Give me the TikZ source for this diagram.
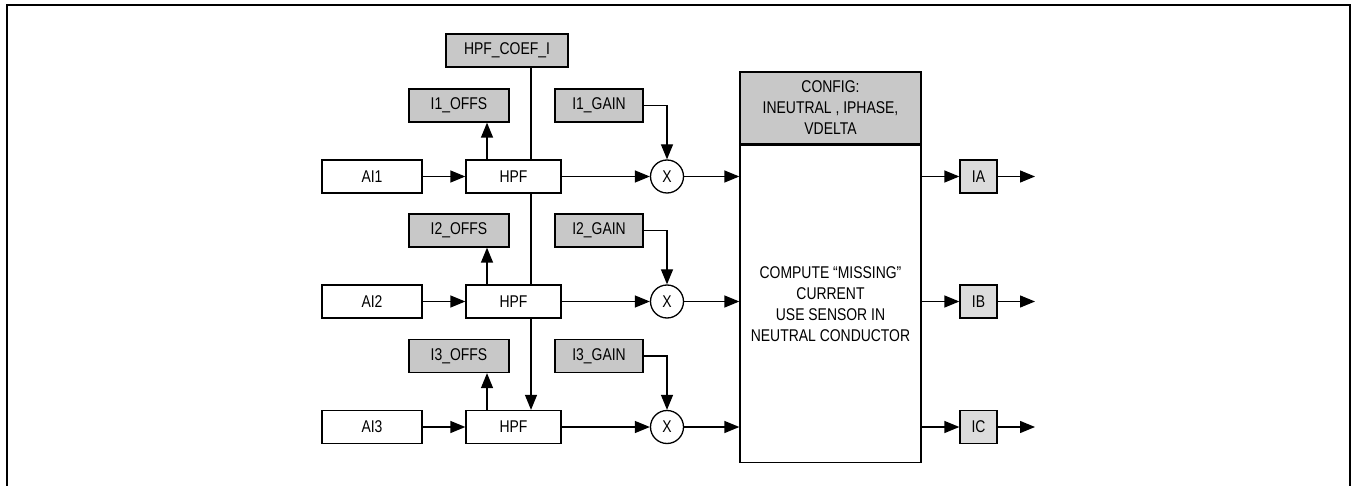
\documentclass[tikz,border=0pt]{standalone}
\usepackage{fontspec}
\setmainfont{Liberation Sans}[FakeStretch=0.82]
\usetikzlibrary{arrows.meta}
\definecolor{boxgray}{HTML}{C8C8C8}
\definecolor{outgray}{HTML}{DCDCDC}
\tikzset{
  every node/.style={font=\fontsize{17}{21}\selectfont, inner sep=0pt},
  blk/.style={draw, line width=1.3pt, fill=white, minimum height=33pt},
  par/.style={blk, fill=boxgray},
  outb/.style={blk, fill=outgray, minimum width=37pt},
  mul/.style={draw, circle, line width=1.3pt, fill=white, minimum size=33pt},
  wire/.style={line width=1.3pt},
  arr/.style={wire, -{Triangle[length=15pt,width=12pt]}}
}
\begin{document}
\begin{tikzpicture}[x=1pt,y=-1pt]
\useasboundingbox (0,0) rectangle (1351,486);
% open frame
\draw[line width=2pt] (7,486) -- (7,5) -- (1350,5) -- (1350,486);

% coefficient shared by the three filters
\node[par, minimum width=122pt] (coef) at (507,50.5) {HPF\_COEF\_I};

% combining block
\node[draw, line width=1.3pt, fill=boxgray, minimum width=181pt, minimum height=72pt,
      align=center] (cfg) at (830.5,108) {CONFIG:\\INEUTRAL , IPHASE,\\VDELTA};
\node[draw, line width=1.3pt, fill=white, minimum width=181pt, minimum height=317pt,
      align=center, anchor=north] (calc) at (cfg.south)
      {COMPUTE “MISSING”\\CURRENT\\USE SENSOR IN\\NEUTRAL CONDUCTOR};

\coordinate (ox) at (487,0);
\coordinate (cx) at (531,0);

% channels
\foreach \i/\y/\o/\out in {1/176.5/105.5/IA, 2/301.5/230.5/IB, 3/427/356/IC} {
  \node[blk, minimum width=100pt] (ai\i) at (372,\y) {AI\i};
  \node[blk, minimum width=95pt] (hpf\i) at (513.5,\y) {HPF};
  \node[par, minimum width=100pt] (offs\i) at (459,\o) {I\i\_OFFS};
  \node[par, minimum width=88pt] (gain\i) at (599,\o) {I\i\_GAIN};
  \node[mul] (x\i) at (667,\y) {X};
  \node[outb] (o\i) at (978.5,\y) {\out};
  \coordinate (end\i) at (1035,\y);
  \draw[arr] (ai\i) -- (hpf\i);
  \draw[arr] (ox |- hpf\i.north) -- (ox |- offs\i.south);
  \draw[arr] (hpf\i) -- (x\i);
  \draw[arr] (gain\i.east) -| (x\i.north);
  \draw[arr] (x\i) -- (x\i -| calc.west);
  \draw[arr] (o\i -| calc.east) -- (o\i);
  \draw[arr] (o\i) -- (end\i);
}

% coefficient distribution
\draw[wire] (cx |- coef.south) -- (cx |- hpf1.north);
\draw[wire] (cx |- hpf1.south) -- (cx |- hpf2.north);
\draw[arr] (cx |- hpf2.south) -- (cx |- hpf3.north);
\end{tikzpicture}
\end{document}
